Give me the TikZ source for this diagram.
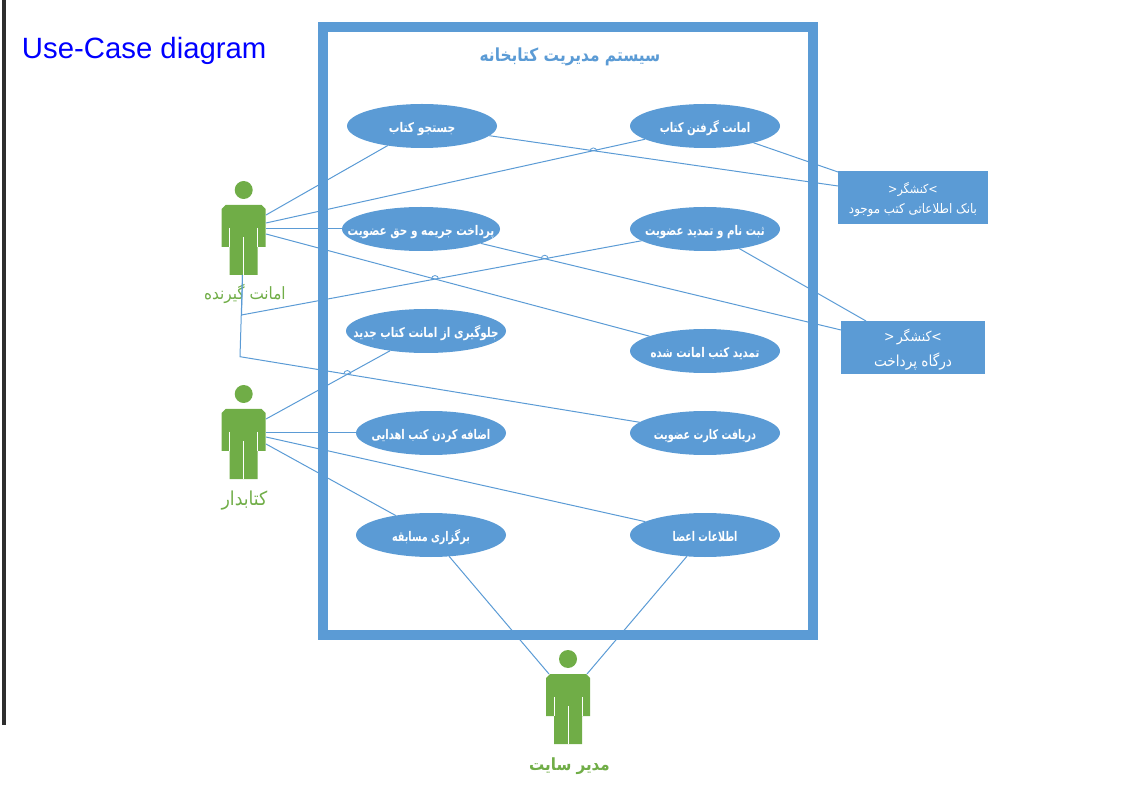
\documentclass[tikz,border=0pt]{standalone}
\usepackage{fontspec}
\setmainfont{Liberation Sans}
\newfontfamily\faB[Script=Arabic]{DejaVu Sans Condensed}
\newfontfamily\faR[Script=Arabic]{DejaVu Sans Condensed}
\TeXXeTstate=1
\definecolor{ublue}{HTML}{5B9BD5}
\definecolor{ugreen}{HTML}{70AD47}
\newcommand\ulabel[2]{\smash{\makebox[0pt][c]{\raisebox{-.5em}{\scalebox{#1}[1]{\scalebox{.92}[1]{\fontsize{10}{12}\faB\bfseries #2}}}}}}
\newcommand\boxline[2]{{\fontsize{#1}{#1}\faR #2}}
\tikzset{
  every picture/.style={x=0.75pt,y=-0.75pt},
  usecase/.style={ellipse,fill=ublue,draw=none,inner sep=0pt,outer sep=0pt,text=white,minimum width=150*0.75pt,minimum height=44*0.75pt},
  extsys/.style={rectangle,fill=ublue,draw=none,inner sep=0pt,outer sep=0pt,text=white,align=center},
  link/.style={draw=ublue,line width=0.75pt},
  hop/.style={draw=ublue,line width=0.6pt},
  actorname/.style={inner sep=0pt,text=ugreen},
  actor/.pic={
    \fill[ugreen] (0,0) circle[radius=9];
    \fill[ugreen] (-18,15) -- (18,15) -- (22,19) -- (22,57) -- (14,57) -- (14,85) -- (-14,85) -- (-14,57) -- (-22,57) -- (-22,19) -- cycle;
    \draw[white,line width=0.5pt] (-14,38) -- (-14,57) (14,38) -- (14,57) (0,47) -- (0,85);
  }
}
\usetikzlibrary{shapes.geometric}
\begin{document}
\begin{tikzpicture}
\useasboundingbox (0,0) rectangle (1131,787);
\fill[black!82] (2,0) rectangle (6,725);
\draw[ublue,line width=7.5pt] (323,27.5) rectangle (813,634.5);
\node[anchor=base west,inner sep=0pt,text={rgb,255:red,0;green,0;blue,255},font=\fontsize{22}{24}\selectfont] (heading) at (21.7,58.5) {Use-Case diagram};
\node[inner sep=0pt,text=ublue] (systitle) at (570,57) {\scalebox{.95}[1]{\fontsize{13.5}{16}\faB\bfseries\beginR سیستم مدیریت کتابخانه\endR}};

\node[usecase] (e1) at (422,126) {\ulabel{.97}{\beginR جستجو کتاب\endR}};
\node[usecase] (e2) at (705,126) {\ulabel{.91}{\beginR امانت گرفتن کتاب\endR}};
\node[usecase,minimum width=158*0.75pt] (e3) at (421,229) {\ulabel{.95}{\beginR پرداخت جریمه و حق عضویت\endR}};
\node[usecase] (e4) at (705,229) {\ulabel{.93}{\beginR ثبت نام و تمدید عضویت\endR}};
\node[usecase,minimum width=160*0.75pt] (e5) at (426,331) {\ulabel{.94}{\beginR جلوگیری از امانت کتاب جدید\endR}};
\node[usecase] (e6) at (705,351) {\ulabel{.93}{\beginR تمدید کتب امانت شده\endR}};
\node[usecase] (e7) at (431,433) {\ulabel{.9}{\beginR اضافه کردن کتب اهدایی\endR}};
\node[usecase] (e8) at (705,433) {\ulabel{.88}{\beginR دریافت کارت عضویت\endR}};
\node[usecase] (e9) at (431,535) {\ulabel{.87}{\beginR برگزاری مسابقه\endR}};
\node[usecase] (e10) at (705,535) {\ulabel{.86}{\beginR اطلاعات اعضا\endR}};

\node[extsys,minimum width=150*0.75pt,minimum height=53*0.75pt] (bank) at (913,197.5) {\rule{0pt}{12pt}\boxline{9.3}{<\beginR کنشگر\endR>}\\[3pt]\boxline{9.9}{\beginR بانک اطلاعاتی کتب موجود\endR}};
\node[extsys,minimum width=144*0.75pt,minimum height=53*0.75pt] (gate) at (913,347.5) {\rule{0pt}{12.5pt}\boxline{10.4}{<\,\beginR کنشگر\endR>}\\[4.5pt]\boxline{11.4}{\beginR درگاه پرداخت\endR}};

\pic (a1) at (243.7,190) {actor};
\pic (a2) at (243.7,394) {actor};
\pic (a3) at (568,659) {actor};

\node[actorname] (n1) at (245,294) {\fontsize{12.7}{14}\faR\beginR امانت گیرنده\endR};
\node[actorname] (n2) at (244.5,501) {\fontsize{14.4}{16}\faR\beginR کتابدار\endR};
\node[actorname] (n3) at (569.5,766) {\fontsize{12.6}{14}\faB\bfseries\beginR مدیر سایت\endR};

\coordinate (a1p1) at (266,215);
\coordinate (a1p2) at (266,223);
\coordinate (a1p3) at (266,229);
\coordinate (a1p4) at (266,234);
\coordinate (a1b)  at (242.5,275);
\coordinate (c1) at (241.5,315);
\coordinate (c2) at (240,356.7);
\coordinate (a2p1) at (266,419);
\coordinate (a2p2) at (266,433);
\coordinate (a2p3) at (266,437);
\coordinate (a2p4) at (266,444);
\coordinate (a3l) at (549,674);
\coordinate (a3r) at (587,674);
\coordinate (bank1) at (838,172);
\coordinate (bank2) at (838,186);
\coordinate (gate1) at (866,321);
\coordinate (gate2) at (841,330);

\draw[link] (a1p1) -- (e1);
\draw[link] (a1p2) -- (e2);
\draw[link] (a1p3) -- (e3);
\draw[link] (a1p4) -- (e6);
\draw[link] (a1b) -- (c1) -- (e4);
\draw[link] (a1b) -- (c2) -- (e8);
\draw[link] (a2p1) -- (e5);
\draw[link] (a2p2) -- (e7);
\draw[link] (a2p3) -- (e10);
\draw[link] (a2p4) -- (e9);
\draw[link] (e9) -- (a3l);
\draw[link] (e10) -- (a3r);
\draw[link] (e2) -- (bank1);
\draw[link] (e1) -- (bank2);
\draw[link] (e4) -- (gate1);
\draw[link] (e3) -- (gate2);

\coordinate (h1) at (593.4,151.4);
\coordinate (h2) at (544.7,258.7);
\coordinate (h3) at (435,279);
\coordinate (h4) at (347.3,374);
\foreach \h in {h1,h2,h3,h4}
  \draw[hop] (\h) ++(-3.5,0) arc[start angle=180,end angle=360,x radius=3.5,y radius=3.5];
\end{tikzpicture}
\end{document}
